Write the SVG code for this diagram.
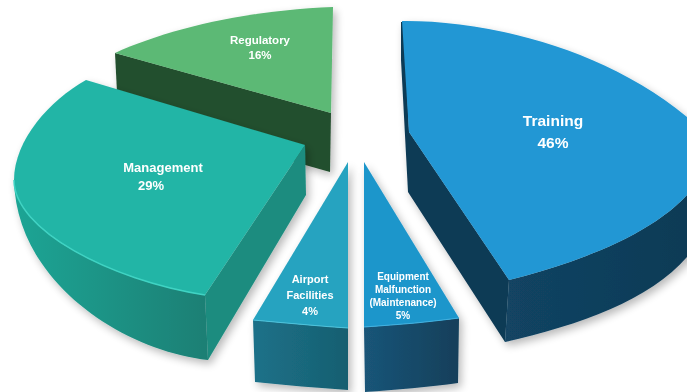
<svg xmlns="http://www.w3.org/2000/svg" width="687" height="392" viewBox="0 0 687 392">
<defs>
<style>
.lbl{font-family:"Liberation Sans",Arial,sans-serif;font-weight:bold;fill:#ffffff;text-anchor:middle}
</style>
<filter id="sh" x="-15%" y="-15%" width="140%" height="140%">
<feGaussianBlur in="SourceAlpha" stdDeviation="4"/>
<feOffset dx="3" dy="4" result="b"/>
<feComponentTransfer><feFuncA type="linear" slope="0.28"/></feComponentTransfer>
<feMerge><feMergeNode/><feMergeNode in="SourceGraphic"/></feMerge>
</filter>
<linearGradient id="gMgmtWall" x1="0" y1="0" x2="1" y2="0">
<stop offset="0" stop-color="#1fa595"/><stop offset="1" stop-color="#1a7f74"/>
</linearGradient>
<linearGradient id="gAirWall" x1="0" y1="0" x2="1" y2="0">
<stop offset="0" stop-color="#1c7189"/><stop offset="1" stop-color="#175f70"/>
</linearGradient>
<linearGradient id="gEqWall" x1="0" y1="0" x2="1" y2="0">
<stop offset="0" stop-color="#1a5578"/><stop offset="1" stop-color="#123f5a"/>
</linearGradient>
<linearGradient id="gTrWall" x1="0" y1="0" x2="1" y2="0">
<stop offset="0" stop-color="#124463"/><stop offset="1" stop-color="#0e3a55"/>
</linearGradient>
</defs>

<g id="slice-regulatory" filter="url(#sh)">
<path d="M115,53 L331,113 L330,172 L118,112 Z" fill="#244f2e"/>
<path d="M331,113 L115,53 C170,28 250,10 333,7 Z" fill="#5bb974"/>
<text class="lbl" x="260" y="44" font-size="11.5">Regulatory</text>
<text class="lbl" x="260" y="59" font-size="11.5">16%</text>
</g>

<g id="slice-training" filter="url(#sh)">
<path d="M401,22 L404,22 L409,132 L509,280 L505,342 L408,192 L401,60 Z" fill="#0f3a55"/>
<path d="M509,280 C580,262 650,235 687,195 L700,195 L700,257 L687,257 C650,300 580,325 505,342 Z" fill="url(#gTrWall)"/>
<path d="M409,132 L402,21 C480,20 600,45 687,117 L700,117 L700,195 L687,195 C650,235 580,262 509,280 Z" fill="#2197d4"/>
<text class="lbl" x="553" y="126" font-size="15.5">Training</text>
<text class="lbl" x="553" y="148" font-size="15.5">46%</text>
</g>

<g id="slice-management" filter="url(#sh)">
<path d="M305,145 L306,195 L208,360 L205,295 Z" fill="#1d8c7f"/>
<path d="M14,180 C14,230 110,280 205,295 L208,360 C120,350 16,280 14,180 Z" fill="url(#gMgmtWall)"/>
<path d="M305,145 L86,80 C50,100 14,140 14,180 C14,230 110,280 205,295 Z" fill="#23b5a6"/>
<path d="M14,180 C14,230 110,280 205,295" fill="none" stroke="#3fd3c3" stroke-width="1.5"/>
<text class="lbl" x="163" y="172" font-size="13">Management</text>
<text class="lbl" x="151" y="190" font-size="13">29%</text>
</g>

<g id="slice-airport" filter="url(#sh)">
<path d="M253,320 C285,323 320,326 348,328 L348,390 C318,388 285,385 255,382 Z" fill="url(#gAirWall)"/>
<path d="M348,162 L348,328 C320,326 285,323 253,320 Z" fill="#27a3c0"/>
<path d="M253,320 C285,323 320,326 348,328" fill="none" stroke="#4cc3dc" stroke-width="1.2"/>
<text class="lbl" x="310" y="283" font-size="11">Airport</text>
<text class="lbl" x="310" y="299" font-size="11">Facilities</text>
<text class="lbl" x="310" y="315" font-size="11">4%</text>
</g>

<g id="slice-equipment" filter="url(#sh)">
<path d="M364,327 C395,325 430,322 459,318 L458,383 C430,387 395,390 365,392 Z" fill="url(#gEqWall)"/>
<path d="M364,162 L459,318 C430,322 395,325 364,327 Z" fill="#1f96cb"/>
<path d="M364,327 C395,325 430,322 459,318" fill="none" stroke="#3fb0e0" stroke-width="1.2"/>
<text class="lbl" x="403" y="280" font-size="10">Equipment</text>
<text class="lbl" x="403" y="293" font-size="10">Malfunction</text>
<text class="lbl" x="403" y="306" font-size="10">(Maintenance)</text>
<text class="lbl" x="403" y="319" font-size="10">5%</text>
</g>
</svg>
